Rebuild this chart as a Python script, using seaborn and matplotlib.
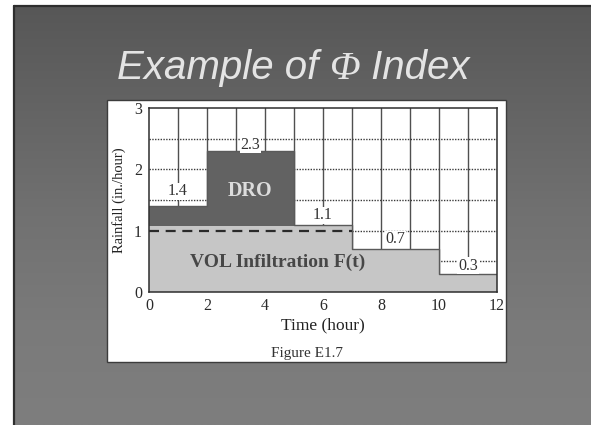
import numpy as np
import pandas as pd
import matplotlib
matplotlib.use("Agg")
import matplotlib.pyplot as plt
import seaborn as sns
from matplotlib.patches import Rectangle
from matplotlib.lines import Line2D
from matplotlib.colors import LinearSegmentedColormap
from matplotlib.ticker import MultipleLocator, FixedLocator

# Rainfall hyetograph (in./hour) over time intervals (hour)
edges = [0, 2, 5, 7, 10, 12]
rain = [1.4, 2.3, 1.1, 0.7, 0.3]
rain_labels = ["1.4", "2.3", "1.1", "0.7", "0.3"]
label_x = [1.0, 3.5, 6.0, 8.5, 11.0]
label_y = [1.64, 2.40, 1.25, 0.86, 0.43]
phi_index = 1.0          # dashed Φ-index line
infil_top = 1.07         # top of shaded infiltration volume
phi_end = 7
x_ticks = [0, 2, 4, 6, 8, 10, 12]
y_ticks = [0, 1, 2, 3]

W, H = 591, 425
sns.set_theme(style="white")
plt.rcParams["font.family"] = ["Liberation Serif", "DejaVu Serif"]


def fx(px):
    return px / W


def fy(py):
    return 1 - py / H


fig = plt.figure(figsize=(W / 100, H / 100), dpi=100)
fig.patch.set_facecolor("white")

# slide background with vertical gradient
bg = fig.add_axes([fx(14), 0, 1 - fx(14), fy(6)])
grad = np.linspace(0, 1, 256).reshape(-1, 1)
cmap = LinearSegmentedColormap.from_list(
    "slide", ["#575757", "#646464", "#717171", "#7a7a7a", "#7e7e7e"])
bg.imshow(grad, aspect="auto", cmap=cmap, extent=[0, 1, 0, 1], origin="upper")
bg.set_axis_off()
fig.add_artist(Line2D([fx(14), fx(14)], [0, fy(6)], transform=fig.transFigure,
                      color="#2e2e2e", lw=1.6))
fig.add_artist(Line2D([fx(14), 1], [fy(6), fy(6)], transform=fig.transFigure,
                      color="#2e2e2e", lw=1.6))

# slide title
renderer = fig.canvas.get_renderer()
title_parts = [("Example of ", "Liberation Sans"),
               ("Φ", "Liberation Serif"),
               (" Index", "Liberation Sans")]
x0 = fx(117)
for txt, fam in title_parts:
    t = fig.text(x0, fy(79), txt, fontsize=29, style="italic", family=fam,
                 color="#e4e4e4", ha="left", va="baseline")
    bb = t.get_window_extent(renderer=renderer)
    x0 += bb.width / W

# white figure panel
fig.add_artist(Rectangle((fx(107), fy(362)), fx(506) - fx(107), fy(100) - fy(362),
                         transform=fig.transFigure, facecolor="white",
                         edgecolor="#3c3c3c", lw=1.0, zorder=1))

ax = fig.add_axes([fx(149), fy(292), fx(497) - fx(149), fy(108) - fy(292)])
ax.set_zorder(3)
ax.set_facecolor("white")

mids = [(a + b) / 2 for a, b in zip(edges[:-1], edges[1:])]
df = pd.DataFrame({
    "time": mids,
    "rain": rain,
    "infiltration": np.minimum(rain, infil_top),
})

# gridlines beneath the shaded areas
for xv in range(1, 12):
    ax.axvline(xv, color="#505050", lw=1.0, zorder=0.6)
for yv in np.arange(0.5, 3.0, 0.5):
    ax.axhline(yv, color="#3a3a3a", lw=1.0, ls=(0, (1, 1)), zorder=0.6)

# rainfall excess (dark) and infiltration (light)
sns.histplot(data=df, x="time", weights="rain", bins=edges, element="step",
             fill=True, color="#626262", alpha=1, linewidth=0, ax=ax, zorder=1)
sns.histplot(data=df, x="time", weights="infiltration", bins=edges, element="step",
             fill=True, color="#c6c6c6", alpha=1, linewidth=0, ax=ax, zorder=1.1)

# hyetograph outline
sns.lineplot(x=edges, y=rain + [rain[-1]], drawstyle="steps-post",
             estimator=None, color="#5a5a5a", lw=1.0, ax=ax, zorder=2)

# Φ-index line
ax.plot([0, phi_end], [phi_index, phi_index], color="#2a2a2a", lw=1.6,
        dashes=(4.5, 3), zorder=2.2)

for s, x, y in zip(rain_labels, label_x, label_y):
    ax.text(x, y, s, ha="center", va="center", fontsize=11.5, color="#333333",
            bbox=dict(fc="white", ec="none", pad=0.5), zorder=3)

ax.text(3.5, 1.65, "DRO", ha="center", va="center", fontsize=14.5,
        fontweight="bold", color="#dcdcdc", zorder=3)
ax.text(4.43, 0.49, "VOL Infiltration F(t)", ha="center", va="center",
        fontsize=14, fontweight="bold", color="#474747", zorder=3)

ax.set_xlim(0, 12)
ax.set_ylim(0, 3)
ax.xaxis.set_major_locator(FixedLocator(x_ticks))
ax.xaxis.set_minor_locator(MultipleLocator(1))
ax.yaxis.set_major_locator(FixedLocator(y_ticks))
ax.yaxis.set_minor_locator(MultipleLocator(0.5))
ax.tick_params(axis="x", which="both", direction="in", length=10, width=1.1,
               color="#3a3a3a", labelsize=11.5, labelcolor="#2a2a2a", pad=4)
ax.tick_params(axis="y", which="both", direction="in", length=9, width=1.1,
               color="#3a3a3a", labelsize=11.5, labelcolor="#2a2a2a", pad=5)
for sp in ax.spines.values():
    sp.set_color("#2e2e2e")
    sp.set_linewidth(1.1)
    sp.set_visible(True)

ax.set_xlabel("Time (hour)", fontsize=12.5, color="#222222", labelpad=3)
ax.set_ylabel("Rainfall (in./hour)", fontsize=10.5, color="#222222", labelpad=6)

fig.text(fx(307), fy(353), "Figure E1.7", fontsize=11, color="#333333",
         ha="center", va="center", zorder=4)

fig.savefig("out.png", dpi=100)
